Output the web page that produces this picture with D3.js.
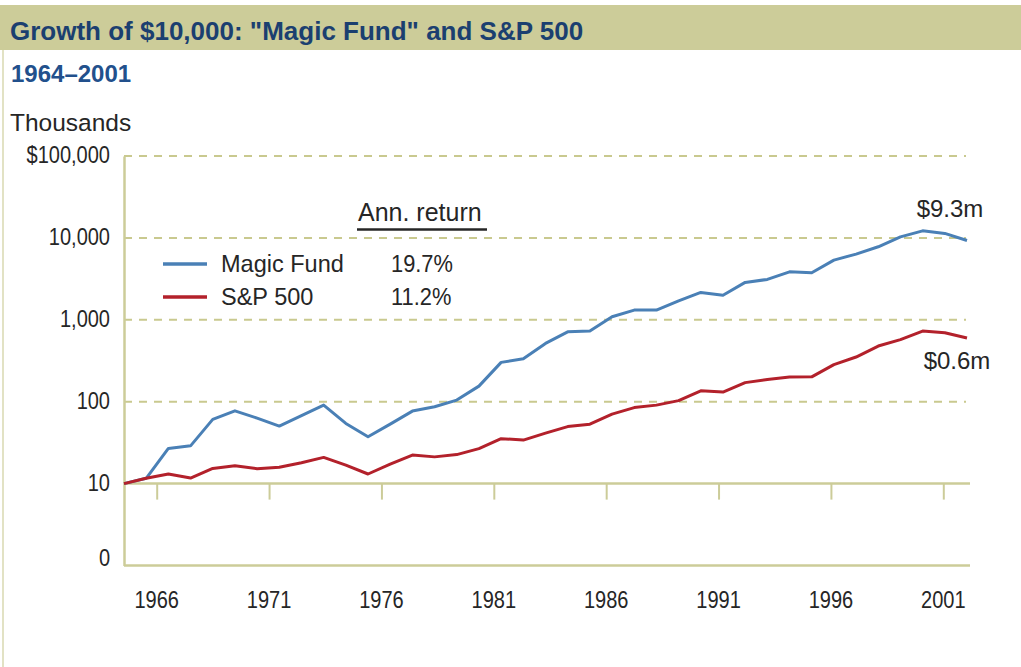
<!DOCTYPE html>
<html>
<head>
<meta charset="utf-8">
<script src="https://cdnjs.cloudflare.com/ajax/libs/d3/7.8.5/d3.min.js"></script>
<style>
body { margin: 0; background: #fff; }
svg text { font-family: "Liberation Sans", Arial, sans-serif; }
</style>
</head>
<body>
<div id="vis"></div>
<script>
// values in thousands of dollars
var years = [1964, 1965, 1966, 1967, 1968, 1969, 1970, 1971, 1972, 1973,
             1974, 1975, 1976, 1977, 1978, 1979, 1980, 1981, 1982, 1983,
             1984, 1985, 1986, 1987, 1988, 1989, 1990, 1991, 1992, 1993,
             1994, 1995, 1996, 1997, 1998, 1999, 2000, 2001, 2002];

var magicFund = [10, 11.6, 26.9, 28.9, 60.8, 77.4, 63, 50.4, 67.6, 90.8,
                 54.3, 37.3, 53.2, 76.8, 86.7, 104.7, 155, 302, 334, 515,
                 713, 728, 1089, 1313, 1313, 1706, 2160, 1995, 2862, 3112,
                 3855, 3749, 5358, 6343, 7787, 10300, 12200, 11350, 9300];

var sp500 = [10, 11.6, 13.1, 11.7, 15.3, 16.5, 15.2, 15.8, 18.0, 20.9,
             16.8, 13.1, 17.3, 22.3, 21.2, 22.6, 26.7, 35.4, 34.0, 41.4,
             49.7, 53.2, 70.6, 84.7, 90.8, 103, 136, 131, 171, 187,
             200, 201, 284, 351, 478, 573, 728, 694, 600];

var xTicks = [1966, 1971, 1976, 1981, 1986, 1991, 1996, 2001];
var yTicks = [1, 10, 100, 1000, 10000, 100000];
var yTickLabels = ["0", "10", "100", "1,000", "10,000", "$100,000"];
var seriesNames = ["Magic Fund", "S&P 500"];
var annReturns = ["19.7%", "11.2%"];
var endLabels = ["$9.3m", "$0.6m"];

var colors = ["#4a80b6", "#b3212b"];
var olive = "#cccc99";
var ink = "#262626";

var W = 1021, H = 667;

var svg = d3.select("#vis")
  .append("svg")
  .attr("width", W)
  .attr("height", H);

// text squeezed sideways to get the narrow look of the original face
function label(parent, x, y, s, size, sx, anchor) {
  return parent.append("text")
    .attr("transform", "translate(" + x + "," + y + ") scale(" + sx + ",1)")
    .attr("text-anchor", anchor || "start")
    .attr("font-size", size)
    .attr("fill", ink)
    .text(s);
}

// title band
svg.append("rect")
  .attr("x", 0).attr("y", 5)
  .attr("width", W).attr("height", 45)
  .attr("fill", olive);

svg.append("line")
  .attr("x1", 3).attr("x2", 3)
  .attr("y1", 50).attr("y2", H)
  .attr("stroke", "#e2e2c4")
  .attr("stroke-width", 2);

label(svg, 10, 40, "Growth of $10,000: \"Magic Fund\" and S&P 500", 26, 1)
  .attr("font-weight", "bold")
  .attr("fill", "#1b3f70");

label(svg, 11, 82, "1964\u20132001", 24, 1)
  .attr("font-weight", "bold")
  .attr("fill", "#22508c");

label(svg, 10, 131, "Thousands", 24.5, 1);

var x = d3.scaleLinear()
  .domain([1964, 2002])
  .range([124, 967]);

// the original's year labels sit a little left of the plotted points
var xLabelScale = x.copy().domain([1964.545, 2002.055]);

var y = d3.scaleLog()
  .domain([1, 100000])
  .range([565.5, 156]);

// dashed gridlines
svg.append("g")
  .selectAll("line")
  .data(yTicks.filter(function(d) { return d >= 100; }))
  .enter().append("line")
  .attr("x1", 124)
  .attr("x2", 966)
  .attr("y1", function(d) { return y(d); })
  .attr("y2", function(d) { return y(d); })
  .attr("stroke", "#c9c98f")
  .attr("stroke-width", 2)
  .attr("stroke-dasharray", "8,7");

// solid baselines at 10 and 0
svg.append("g")
  .selectAll("line")
  .data([1, 10])
  .enter().append("line")
  .attr("x1", 124)
  .attr("x2", 970)
  .attr("y1", function(d) { return y(d); })
  .attr("y2", function(d) { return y(d); })
  .attr("stroke", olive)
  .attr("stroke-width", 2.5);

// y axis line
var yAxis = svg.append("g")
  .attr("transform", "translate(124,0)")
  .call(d3.axisLeft(y)
    .tickValues(yTicks)
    .tickSize(0)
    .tickFormat(""));

yAxis.select(".domain")
  .attr("stroke", olive)
  .attr("stroke-width", 2.5);

var yLab = svg.append("g");
yTicks.forEach(function(d, i) {
  var cy = d === 1 ? y(d) - 8 : y(d) - 1;
  label(yLab, 110, cy + 8, yTickLabels[i], 23, 0.87, "end");
});

// x axis ticks hang from the 10 line
var xAxis = svg.append("g")
  .attr("transform", "translate(0," + y(10) + ")")
  .call(d3.axisBottom(xLabelScale)
    .tickValues(xTicks)
    .tickSize(16)
    .tickFormat(""));

xAxis.select(".domain").remove();
xAxis.selectAll("line")
  .attr("stroke", olive)
  .attr("stroke-width", 2);

var xLab = svg.append("g");
xTicks.forEach(function(d) {
  label(xLab, xLabelScale(d), 608, d, 23, 0.87, "middle");
});

// lines
var line = d3.line()
  .x(function(d, i) { return x(years[i]); })
  .y(function(d) { return y(d); });

svg.append("g")
  .selectAll("path")
  .data([magicFund, sp500])
  .enter().append("path")
  .attr("d", line)
  .attr("fill", "none")
  .attr("stroke", function(d, i) { return colors[i]; })
  .attr("stroke-width", 3)
  .attr("stroke-linejoin", "round");

// end labels
label(svg, 950, 217, endLabels[0], 24, 1, "middle");
label(svg, 957, 369, endLabels[1], 24, 1, "middle");

// legend
label(svg, 358, 221, "Ann. return", 25, 1);

svg.append("line")
  .attr("x1", 357).attr("x2", 487)
  .attr("y1", 229.5).attr("y2", 229.5)
  .attr("stroke", ink)
  .attr("stroke-width", 2.5);

var legend = svg.append("g")
  .selectAll("g")
  .data(seriesNames)
  .enter().append("g")
  .attr("transform", function(d, i) { return "translate(0," + (264 + i * 33) + ")"; });

legend.append("line")
  .attr("x1", 163).attr("x2", 207)
  .attr("stroke", function(d, i) { return colors[i]; })
  .attr("stroke-width", 3.5);

legend.each(function(d, i) {
  var g = d3.select(this);
  label(g, 221, 8, d, 24, 0.98);
  label(g, 391, 8, annReturns[i], 23, 0.95);
});
</script>
</body>
</html>
